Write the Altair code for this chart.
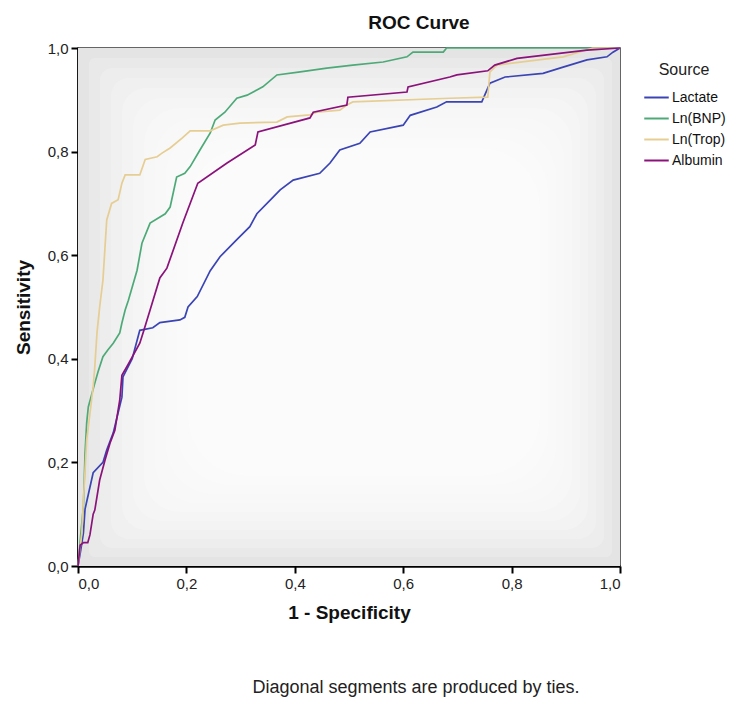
import altair as alt
import pandas as pd

series_names = ["Lactate", "Ln(BNP)", "Ln(Trop)", "Albumin"]
series_colors = ["#3a44b4", "#4daa78", "#e6cd92", "#8a127a"]

lactate_x = [0.0, 0.005, 0.01, 0.013, 0.028, 0.046, 0.053, 0.065, 0.081, 0.083, 0.10, 0.114, 0.138, 0.151, 0.188, 0.197, 0.203, 0.22, 0.244, 0.262, 0.293, 0.317, 0.33, 0.36, 0.373, 0.397, 0.446, 0.465, 0.483, 0.52, 0.539, 0.60, 0.613, 0.662, 0.68, 0.745, 0.76, 0.788, 0.858, 0.895, 0.939, 0.976, 0.987, 1.0]
lactate_y = [0.0, 0.03, 0.064, 0.11, 0.18, 0.20, 0.224, 0.257, 0.326, 0.365, 0.40, 0.455, 0.46, 0.47, 0.475, 0.48, 0.50, 0.52, 0.57, 0.597, 0.63, 0.655, 0.68, 0.712, 0.726, 0.745, 0.758, 0.778, 0.803, 0.816, 0.838, 0.851, 0.87, 0.886, 0.896, 0.896, 0.932, 0.944, 0.951, 0.963, 0.977, 0.983, 0.992, 1.0]

bnp_x = [0.0, 0.005, 0.01, 0.013, 0.016, 0.019, 0.025, 0.031, 0.037, 0.046, 0.055, 0.065, 0.077, 0.081, 0.087, 0.093, 0.109, 0.118, 0.133, 0.161, 0.17, 0.182, 0.197, 0.207, 0.225, 0.244, 0.253, 0.271, 0.293, 0.312, 0.33, 0.341, 0.367, 0.41, 0.459, 0.507, 0.563, 0.607, 0.618, 0.674, 0.68, 1.0]
bnp_y = [0.0, 0.06, 0.115, 0.218, 0.276, 0.307, 0.33, 0.353, 0.375, 0.404, 0.417, 0.43, 0.45, 0.469, 0.494, 0.513, 0.571, 0.623, 0.662, 0.68, 0.693, 0.751, 0.758, 0.771, 0.803, 0.836, 0.861, 0.876, 0.903, 0.909, 0.919, 0.925, 0.948, 0.954, 0.961, 0.967, 0.973, 0.983, 0.992, 0.992, 1.0, 1.0]

trop_x = [0.0, 0.007, 0.01, 0.016, 0.019, 0.025, 0.028, 0.031, 0.035, 0.04, 0.046, 0.053, 0.062, 0.074, 0.081, 0.087, 0.114, 0.124, 0.146, 0.155, 0.17, 0.192, 0.207, 0.244, 0.268, 0.299, 0.367, 0.386, 0.428, 0.44, 0.483, 0.496, 0.507, 0.686, 0.756, 0.76, 0.773, 0.895, 0.95, 1.0]
trop_y = [0.0, 0.063, 0.127, 0.243, 0.268, 0.32, 0.346, 0.385, 0.45, 0.50, 0.552, 0.668, 0.70, 0.707, 0.739, 0.755, 0.755, 0.785, 0.79, 0.797, 0.807, 0.826, 0.84, 0.84, 0.851, 0.855, 0.857, 0.867, 0.871, 0.876, 0.88, 0.89, 0.896, 0.903, 0.905, 0.954, 0.967, 0.983, 1.0, 1.0]

alb_x = [0.0, 0.004, 0.01, 0.018, 0.022, 0.028, 0.031, 0.04, 0.05, 0.059, 0.068, 0.077, 0.081, 0.093, 0.114, 0.12, 0.133, 0.151, 0.164, 0.194, 0.221, 0.275, 0.327, 0.332, 0.428, 0.434, 0.496, 0.498, 0.607, 0.609, 0.686, 0.699, 0.756, 0.769, 0.81, 0.939, 1.0]
alb_y = [0.0, 0.04, 0.045, 0.045, 0.06, 0.10, 0.108, 0.166, 0.205, 0.237, 0.262, 0.32, 0.368, 0.39, 0.43, 0.45, 0.494, 0.556, 0.575, 0.664, 0.739, 0.778, 0.813, 0.838, 0.865, 0.876, 0.89, 0.905, 0.915, 0.925, 0.944, 0.948, 0.956, 0.967, 0.98, 0.996, 1.0]

tick_values = [0.0, 0.2, 0.4, 0.6, 0.8, 1.0]

rows = []
for name, xs, ys in [("Lactate", lactate_x, lactate_y), ("Ln(BNP)", bnp_x, bnp_y),
                     ("Ln(Trop)", trop_x, trop_y), ("Albumin", alb_x, alb_y)]:
    for i, (a, b) in enumerate(zip(xs, ys)):
        rows.append({"Source": name, "fpr": a, "tpr": b, "idx": i})
df = pd.DataFrame(rows)

W, H = 542, 518
label_expr = "replace(format(datum.value, '.1f'), '.', ',')"
FONT = "Liberation Sans Narrow, Liberation Sans, Arial, sans-serif"
xscale = alt.Scale(domain=[0, 1], nice=False, zero=False)
yscale = alt.Scale(domain=[0, 1], nice=False, zero=False)

one = pd.DataFrame({"a": [0]})
# soft vignette: nested translucent white rectangles over a light grey base
bg_layers = [alt.Chart(one).mark_rect(fill="#e4e4e4").encode(
    x=alt.value(0), x2=alt.value(W), y=alt.value(0), y2=alt.value(H))]
for k in range(1, 15):
    bg_layers.append(alt.Chart(one).mark_rect(fill="#ffffff", opacity=0.2, cornerRadius=6 * k).encode(
        x=alt.value(11 * k), x2=alt.value(W - 8 * k),
        y=alt.value(10 * k), y2=alt.value(H - 9 * k)))

lines = alt.Chart(df).mark_line(strokeWidth=1.7).encode(
    x=alt.X("fpr:Q", scale=xscale,
            axis=alt.Axis(values=tick_values, labelExpr=label_expr, title="1 - Specificity",
                          labelPadding=3, titlePadding=12)),
    y=alt.Y("tpr:Q", scale=yscale,
            axis=alt.Axis(values=tick_values, labelExpr=label_expr, title="Sensitivity",
                          labelPadding=3, titlePadding=14)),
    color=alt.Color("Source:N", scale=alt.Scale(domain=series_names, range=series_colors),
                    sort=series_names,
                    legend=alt.Legend(orient="none", legendX=565, legendY=14, title="Source",
                                      titleFont="Liberation Sans", titleFontSize=16,
                                      titleFontWeight="normal", titleColor="#222",
                                      titleAnchor="middle", titlePadding=6,
                                      labelFont="Liberation Sans", labelFontSize=14,
                                      labelColor="#111", symbolType="stroke",
                                      symbolStrokeWidth=2, symbolSize=600, labelOffset=2,
                                      rowPadding=-8)),
    order="idx:Q",
)

foot = alt.Chart(pd.DataFrame({"t": ["Diagonal segments are produced by ties."]})).mark_text(
    font=FONT, fontSize=18, color="#222"
).encode(text="t:N", x=alt.value(338), y=alt.value(640))

chart = alt.layer(*bg_layers, lines, foot).properties(
    width=W, height=H,
    autosize=alt.AutoSizeParams(type="none"),
    padding={"left": 70, "top": 40, "right": 122, "bottom": 132},
    title=alt.TitleParams(text="ROC Curve", font="Liberation Sans", fontSize=19,
                          fontWeight="bold", color="#111", anchor="middle", dx=70, offset=8),
).configure_view(
    stroke="#333", strokeWidth=1.5
).configure_axis(
    grid=False, domain=True, ticks=True, domainColor="black", domainWidth=2.5,
    tickColor="black", tickWidth=2, tickSize=7, labelFontSize=15, labelColor="#222222",
    labelFont=FONT, titleFont="Liberation Sans", titleFontSize=19,
    titleFontWeight="bold", titleColor="#111111"
)

chart.save("out.html", embed_options={"renderer": "svg", "actions": False})
